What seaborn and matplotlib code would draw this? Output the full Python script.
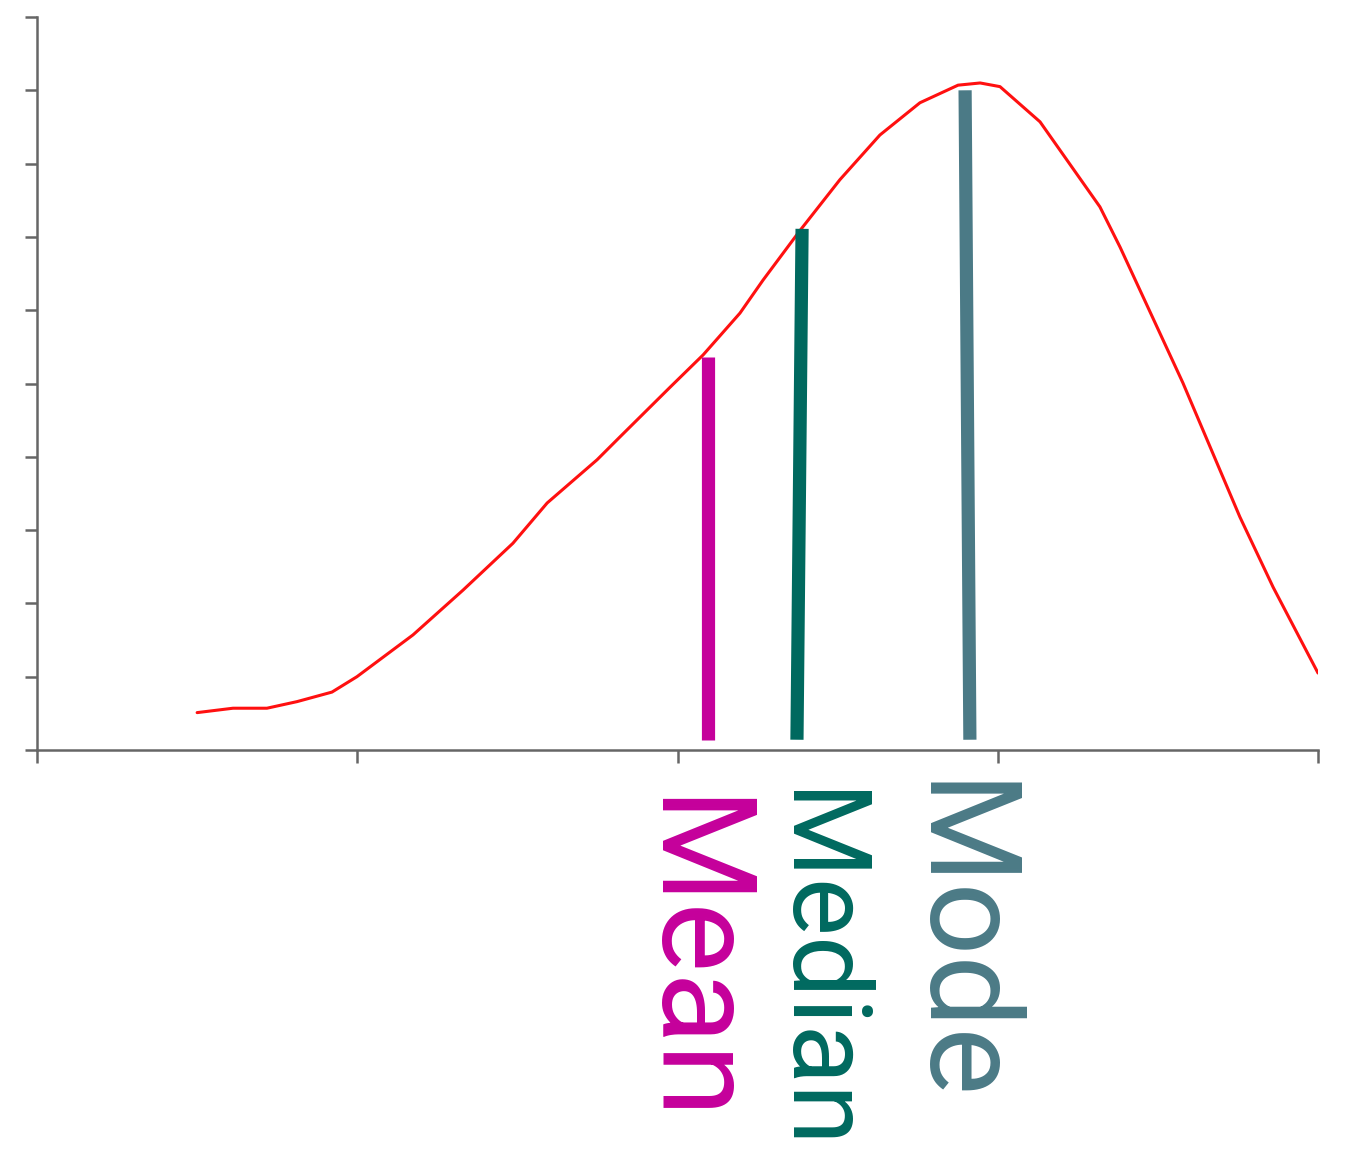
import numpy as np
import pandas as pd
import matplotlib
matplotlib.use('Agg')
import matplotlib.pyplot as plt
import seaborn as sns

# skewed distribution curve (x 0-4, y 0-10)
curve_x = [0.500, 0.612, 0.718, 0.812, 0.921, 0.999, 1.174, 1.330, 1.486, 1.593,
           1.749, 1.820, 1.977, 2.080, 2.195, 2.267, 2.383, 2.507, 2.632, 2.757,
           2.876, 2.945, 3.007, 3.132, 3.319, 3.382, 3.578, 3.756,
           3.860, 4.000]
curve_y = [0.51, 0.57, 0.57, 0.66, 0.79, 1.00, 1.57, 2.18, 2.82, 3.37,
           3.96, 4.27, 4.95, 5.39, 5.96, 6.41, 7.09, 7.78, 8.39, 8.83,
           9.07, 9.10, 9.05, 8.57, 7.41, 6.86, 5.01, 3.18,
           2.22, 1.05]

# mean / median / mode markers: bottom x, top x, top y
stat_names = ['Mean', 'Median', 'Mode']
stat_x_bottom = [2.095, 2.373, 2.913]
stat_x_top = [2.095, 2.389, 2.898]
stat_y_top = [5.36, 7.11, 9.00]
stat_y_bottom = 0.14
stat_colors = ['#C5009B', '#00695F', '#4B7A86']
label_sizes = [95, 79, 92]
label_x = [1.918, 2.333, 2.757]
label_y = [-0.64, -0.54, -0.42]

sns.set_style('ticks')
plt.rcParams['font.family'] = ['Roboto', 'DejaVu Sans']

fig = plt.figure(figsize=(13.54, 11.65), dpi=100)
ax = fig.add_axes([37 / 1354, 415 / 1165, 1281 / 1354, 733 / 1165])

df = pd.DataFrame({'x': curve_x, 'y': curve_y})
sns.lineplot(data=df, x='x', y='y', sort=False, estimator=None,
             color='#FF1010', linewidth=2.2, ax=ax)

for i, name in enumerate(stat_names):
    ax.plot([stat_x_bottom[i], stat_x_top[i]], [stat_y_bottom, stat_y_top[i]],
            color=stat_colors[i], linewidth=9.5, solid_capstyle='butt')
    ax.text(label_x[i], label_y[i], name, color=stat_colors[i],
            fontsize=label_sizes[i], rotation=-90, rotation_mode='anchor',
            ha='left', va='baseline', clip_on=False)

ax.set_xlim(0, 4)
ax.set_ylim(0, 10)
ax.set_xticks(np.arange(0, 5, 1))
ax.set_yticks(np.arange(0, 11, 1))
ax.set_xticklabels([])
ax.set_yticklabels([])
ax.set_xlabel('')
ax.set_ylabel('')
for side in ['top', 'right']:
    ax.spines[side].set_visible(False)
for side in ['left', 'bottom']:
    ax.spines[side].set_color('#666666')
    ax.spines[side].set_linewidth(1.8)
ax.tick_params(length=9, width=1.8, color='#666666')

fig.savefig('out.png', dpi=100, facecolor='white')
